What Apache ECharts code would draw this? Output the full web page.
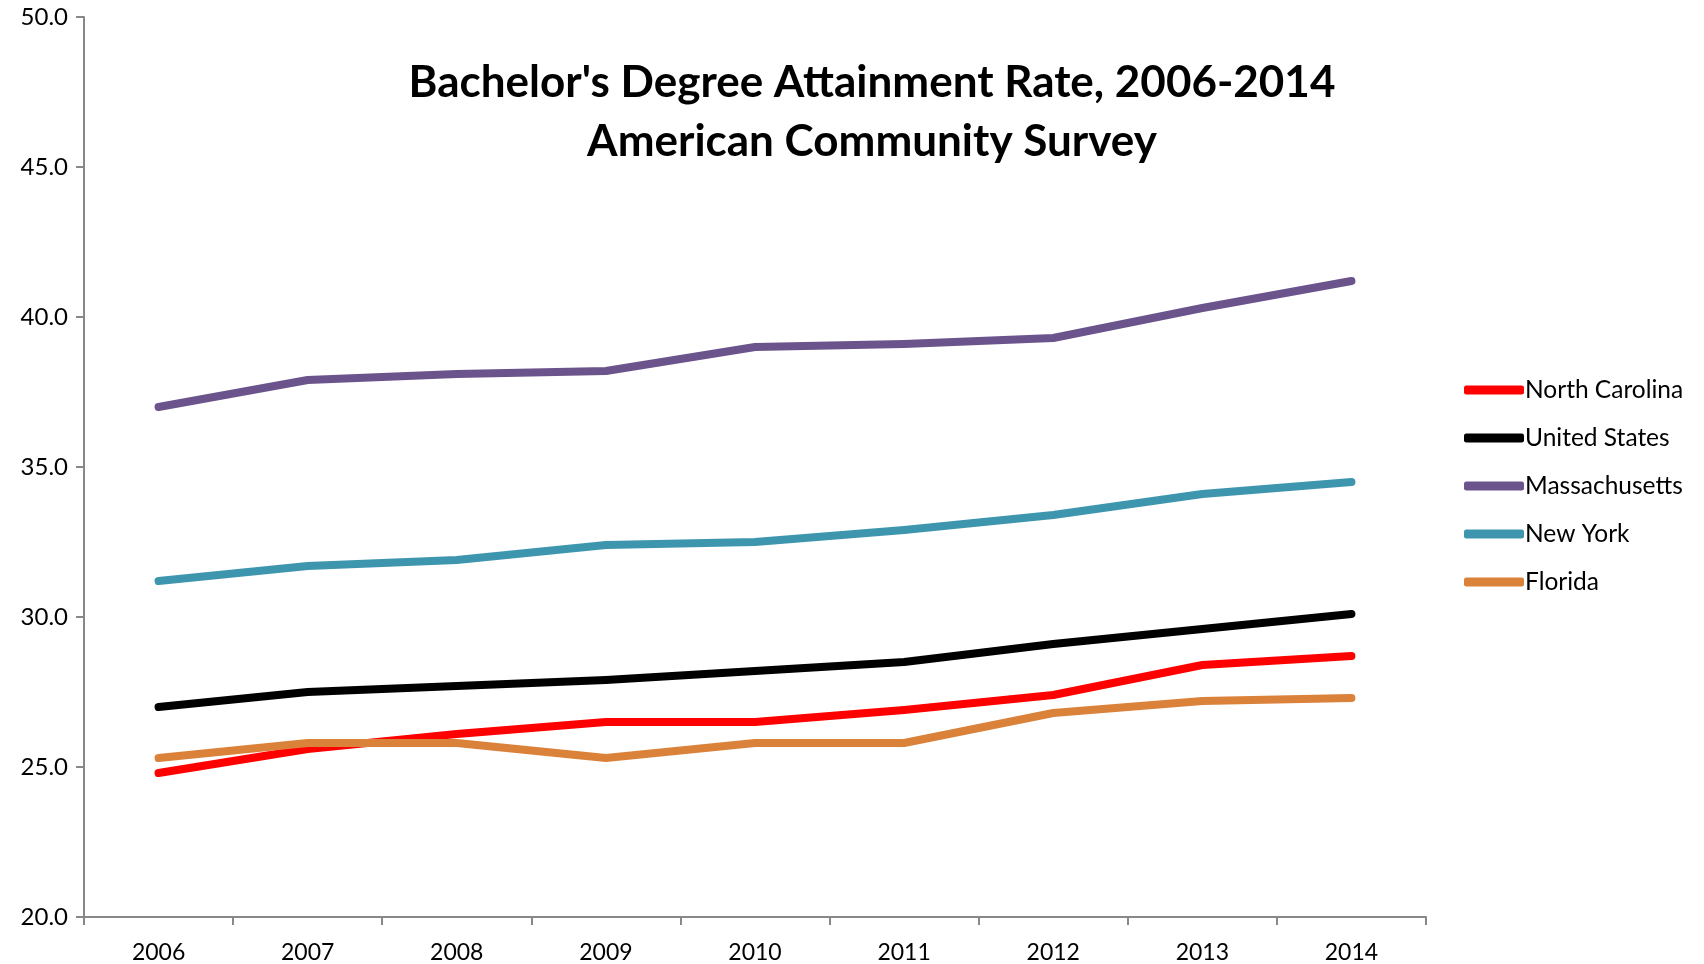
<!DOCTYPE html>
<html>
<head>
<meta charset="utf-8">
<script src="https://cdn.jsdelivr.net/npm/echarts@6/dist/echarts.min.js"></script>
<style>
  html, body { margin: 0; padding: 0; background: #fff; }
  #chart { width: 1704px; height: 964px; }
</style>
</head>
<body>
<div id="chart"></div>
<script>
// Bachelor's degree attainment rate (%) by year, ACS estimates
const years = ['2006', '2007', '2008', '2009', '2010', '2011', '2012', '2013', '2014'];
const northCarolina = [24.8, 25.6, 26.1, 26.5, 26.5, 26.9, 27.4, 28.4, 28.7];
const unitedStates  = [27.0, 27.5, 27.7, 27.9, 28.2, 28.5, 29.1, 29.6, 30.1];
const massachusetts = [37.0, 37.9, 38.1, 38.2, 39.0, 39.1, 39.3, 40.3, 41.2];
const newYork       = [31.2, 31.7, 31.9, 32.4, 32.5, 32.9, 33.4, 34.1, 34.5];
const florida       = [25.3, 25.8, 25.8, 25.3, 25.8, 25.8, 26.8, 27.2, 27.3];

const seriesDefs = [
  { name: 'North Carolina', data: northCarolina, color: '#FF0000' },
  { name: 'United States',  data: unitedStates,  color: '#000000' },
  { name: 'Massachusetts',  data: massachusetts, color: '#6B538C' },
  { name: 'New York',       data: newYork,       color: '#3E96AE' },
  { name: 'Florida',        data: florida,       color: '#DB823A' }
];

const FONT = 'Lato, "Open Sans", "DejaVu Sans", sans-serif';
const axisGray = '#888888';

const chart = echarts.init(document.getElementById('chart'), null, { renderer: 'canvas' });
chart.setOption({
  animation: false,
  backgroundColor: '#ffffff',
  title: {
    text: "Bachelor's Degree Attainment Rate, 2006-2014\nAmerican Community Survey",
    left: 867,
    top: 48,
    textAlign: 'center',
    textStyle: {
      fontFamily: FONT,
      fontWeight: 'bold',
      fontSize: 44,
      lineHeight: 59,
      color: '#000'
    }
  },
  legend: {
    orient: 'vertical',
    left: 1459,
    top: 372,
    icon: 'roundRect',
    itemWidth: 60,
    itemHeight: 9,
    itemGap: 22,
    data: seriesDefs.map(s => s.name),
    textStyle: {
      fontFamily: FONT,
      fontSize: 24.5,
      lineHeight: 26,
      color: '#000',
      padding: [0, 0, 0, -4]
    }
  },
  grid: {
    left: 84,
    top: 17,
    right: 278,
    bottom: 47,
    containLabel: false
  },
  xAxis: {
    type: 'category',
    data: years,
    boundaryGap: true,
    axisLine: { lineStyle: { color: axisGray, width: 2 } },
    axisTick: { show: true, length: 8, inside: false, lineStyle: { color: axisGray, width: 2 } },
    axisLabel: {
      fontFamily: FONT,
      fontSize: 23,
      color: '#000',
      margin: 24
    },
    splitLine: { show: false }
  },
  yAxis: {
    type: 'value',
    min: 20,
    max: 50,
    interval: 5,
    axisLine: { show: true, lineStyle: { color: axisGray, width: 2 } },
    axisTick: { show: true, length: 8, inside: false, lineStyle: { color: axisGray, width: 2 } },
    axisLabel: {
      fontFamily: FONT,
      fontSize: 24,
      color: '#000',
      margin: 16,
      formatter: v => v.toFixed(1)
    },
    splitLine: { show: false }
  },
  series: seriesDefs.map(s => ({
    name: s.name,
    type: 'line',
    data: s.data,
    symbol: 'none',
    color: s.color,
    lineStyle: { color: s.color, width: 8, cap: 'round', join: 'round' },
    emphasis: { disabled: true }
  }))
});
</script>
</body>
</html>
